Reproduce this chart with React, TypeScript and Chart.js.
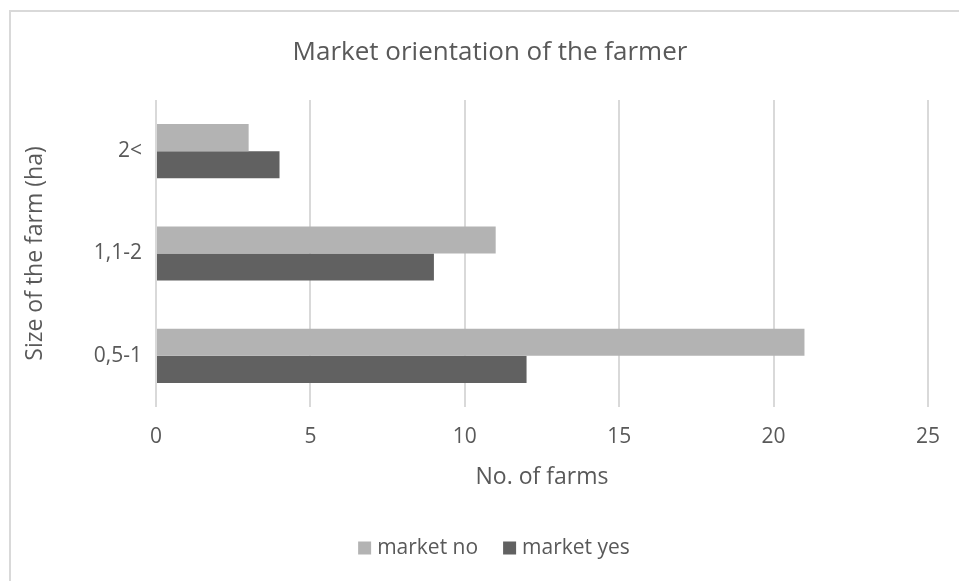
import React, { useEffect, useRef } from "react";
import { Chart, registerables } from "chart.js";

Chart.register(...registerables);

const categories = ["2<", "1,1-2", "0,5-1"];
const marketNo = [3, 11, 21];
const marketYes = [4, 9, 12];
const seriesNames = ["market no", "market yes"];
const seriesColors = ["#B3B3B3", "#616161"];
const titleText = "Market orientation of the farmer";
const xTitle = "No. of farms";
const yTitle = "Size of the farm (ha)";

const FONT = "'Open Sans', 'Liberation Sans', sans-serif";
const TEXT = "#595959";

const frame = {
  id: "frame",
  beforeDraw(chart: any) {
    const ctx = chart.ctx;
    ctx.save();
    ctx.fillStyle = "#ffffff";
    ctx.fillRect(0, 0, chart.width, chart.height);
    ctx.strokeStyle = "#D9D9D9";
    ctx.lineWidth = 2;
    ctx.strokeRect(10, 11, chart.width + 20, chart.height + 20);
    ctx.restore();
  },
  afterDraw(chart: any) {
    const ctx = chart.ctx;
    ctx.save();
    // title, centred on the chart frame
    ctx.fillStyle = TEXT;
    ctx.font = `26px ${FONT}`;
    ctx.textAlign = "center";
    ctx.textBaseline = "middle";
    ctx.fillText(titleText, 490, 53);
    // legend
    ctx.font = `21px ${FONT}`;
    ctx.textAlign = "left";
    const box = 13;
    const gapBox = 6;
    const gapItem = 25;
    const items = chart.data.datasets.map((d: any) => ({
      label: d.label,
      color: d.backgroundColor,
      w: ctx.measureText(d.label).width,
    }));
    const total =
      items.reduce((a: number, it: any) => a + box + gapBox + it.w, 0) +
      gapItem * (items.length - 1);
    let x = 494 - total / 2;
    const cy = 548;
    items.forEach((it: any) => {
      ctx.fillStyle = it.color;
      ctx.fillRect(x, cy - box / 2, box, box);
      x += box + gapBox;
      ctx.fillStyle = TEXT;
      ctx.fillText(it.label, x, cy);
      x += it.w + gapItem;
    });
    ctx.restore();
  },
};

export default function App() {
  const ref = useRef<HTMLCanvasElement>(null);
  useEffect(() => {
    if (!ref.current) return;
    const chart = new Chart(ref.current, {
      type: "bar",
      data: {
        labels: categories,
        datasets: [
          {
            label: seriesNames[0],
            data: marketNo,
            backgroundColor: seriesColors[0],
            categoryPercentage: 0.53,
            barPercentage: 1,
          },
          {
            label: seriesNames[1],
            data: marketYes,
            backgroundColor: seriesColors[1],
            categoryPercentage: 0.53,
            barPercentage: 1,
          },
        ],
      },
      options: {
        indexAxis: "y",
        animation: false,
        responsive: false,
        devicePixelRatio: 1,
        layout: { padding: { left: 10, top: 100, right: 31, bottom: 53 } },
        plugins: {
          title: { display: false },
          legend: { display: false },
          tooltip: { enabled: false },
        },
        scales: {
          x: {
            min: 0,
            max: 25,
            ticks: {
              stepSize: 5,
              color: TEXT,
              font: { family: FONT, size: 21 },
              padding: 17,
            },
            grid: { color: "#D9D9D9", lineWidth: 2, drawTicks: false },
            border: { display: false },
            title: {
              display: true,
              text: xTitle,
              color: TEXT,
              font: { family: FONT, size: 23 },
              padding: { top: 0, bottom: 37 },
            },
            afterFit: (s: any) => {
              s.height = 121;
            },
          },
          y: {
            ticks: {
              color: TEXT,
              font: { family: FONT, size: 21 },
              padding: 14,
            },
            grid: { display: false, drawTicks: false },
            border: { display: false },
            title: {
              display: true,
              text: yTitle,
              color: TEXT,
              font: { family: FONT, size: 23 },
              padding: { top: 12, bottom: 0 },
            },
            afterFit: (s: any) => {
              s.width = 146;
            },
          },
        },
      },
      plugins: [frame],
    });
    return () => chart.destroy();
  }, []);
  return (
    <div style={{ position: "absolute", left: 0, top: 0, width: 959, height: 581 }}>
      <canvas ref={ref} width={959} height={581} style={{ display: "block" }} />
    </div>
  );
}
